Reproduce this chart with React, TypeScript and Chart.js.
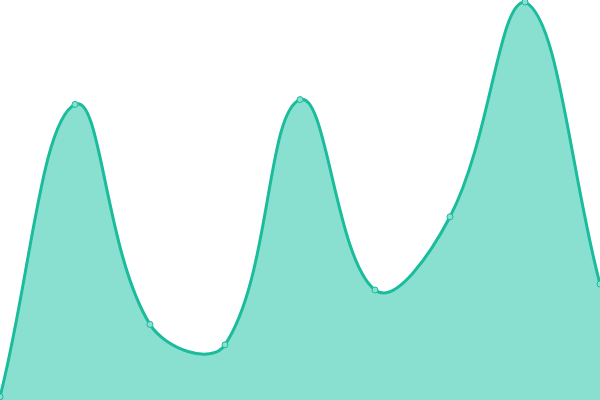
import React, { useEffect, useRef } from 'react';
import { Chart, registerables } from 'chart.js';

Chart.register(...registerables);

const labels = ['1', '2', '3', '4', '5', '6', '7', '8', '9'];
const values = [0.8, 73.9, 18.9, 13.8, 75.1, 27.5, 45.8, 99.5, 29];

const lineColor = 'rgb(26, 188, 156)';
const fillColor = '#8ae0d0';

const App: React.FC = () => {
  const canvasRef = useRef<HTMLCanvasElement | null>(null);

  useEffect(() => {
    document.body.style.margin = '0';
    if (!canvasRef.current) return;
    const chart = new Chart(canvasRef.current, {
      type: 'line',
      data: {
        labels,
        datasets: [
          {
            data: values,
            borderColor: lineColor,
            backgroundColor: fillColor,
            borderWidth: 3,
            fill: 'origin',
            tension: 0.4,
            clip: false,
            pointRadius: 3,
            pointBorderWidth: 1,
            pointBackgroundColor: fillColor,
            pointBorderColor: lineColor
          }
        ]
      },
      options: {
        animation: false,
        responsive: true,
        maintainAspectRatio: false,
        layout: { padding: 0, autoPadding: false },
        plugins: {
          legend: { display: false },
          tooltip: { enabled: false }
        },
        scales: {
          x: { display: false, offset: false },
          y: { display: false, min: 0, max: 100 }
        }
      }
    });
    return () => {
      chart.destroy();
    };
  }, []);

  return (
    <div style={{ width: 600, height: 400, position: 'relative' }}>
      <canvas ref={canvasRef}></canvas>
    </div>
  );
};

export default App;
